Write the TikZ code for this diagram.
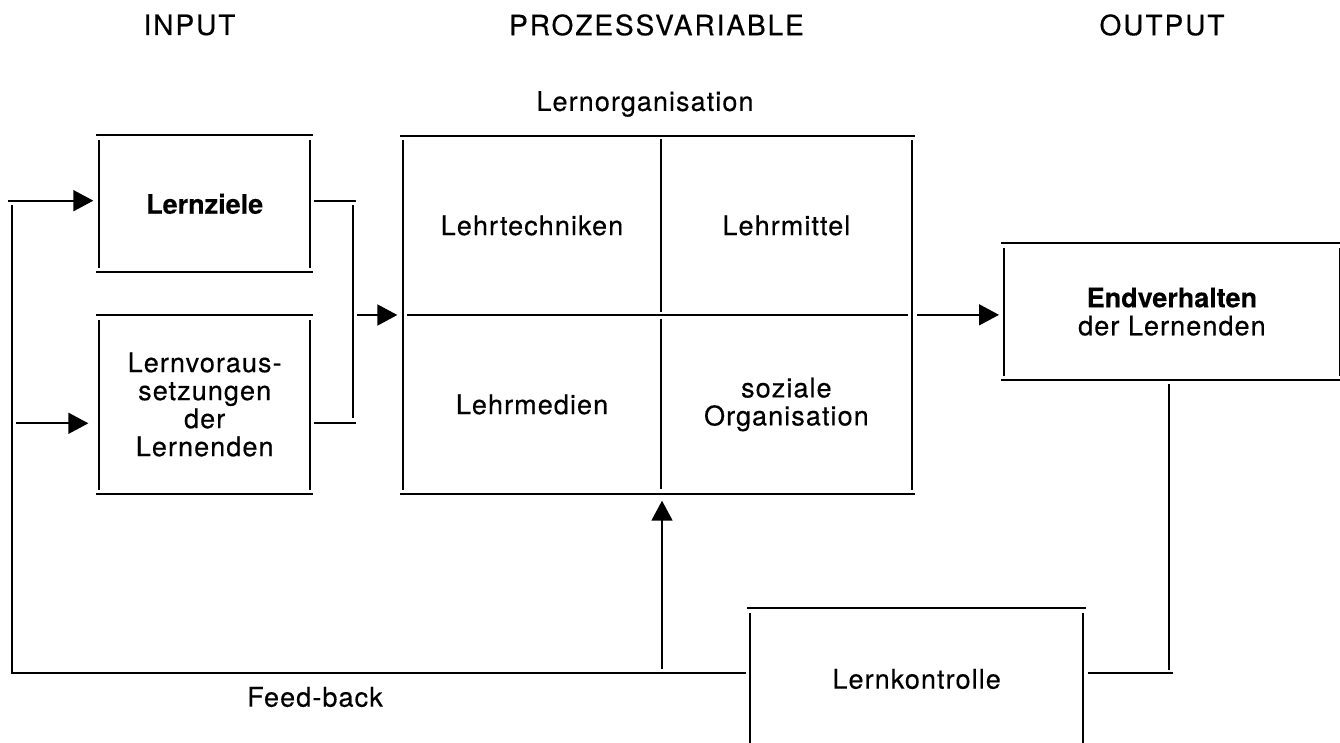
\documentclass[tikz,border=0pt]{standalone}
\usepackage{fontspec}
\setmainfont{TeX Gyre Heros}[LetterSpace=4,FakeBold=0.4,BoldFeatures={LetterSpace=0,FakeBold=0.2}]
\newfontfamily\headfont{TeX Gyre Heros}[LetterSpace=7,FakeBold=0.4]
\usepackage{tikz}
\usetikzlibrary{arrows.meta}

\newcommand{\gapframe}[1]{%
  \draw ([xshift=-3pt]#1.north west) -- ([xshift=3pt]#1.north east);
  \draw ([xshift=-3pt]#1.south west) -- ([xshift=3pt]#1.south east);
  \draw ([yshift=-4.5pt]#1.north west) -- ([yshift=4.5pt]#1.south west);
  \draw ([yshift=-4.5pt]#1.north east) -- ([yshift=4.5pt]#1.south east);
}

\begin{document}
\begin{tikzpicture}[x=1pt,y=-1pt,line width=1.8pt,
    every node/.style={font=\fontsize{27}{28}\selectfont,inner sep=0pt,outer sep=0pt,align=center},
    head/.style={font=\headfont\fontsize{28}{30}\selectfont},
    arr/.style={-{Triangle[length=20pt,width=21pt]}}]
  \useasboundingbox (0,0) rectangle (1340,743);


    \node[head]   (hin)   at (189.5, 25)      {INPUT};
    \node[head]   (hproc) at (656.5, 25)      {PROZESSVARIABLE};
    \node[head]   (hout)  at (1162, 25)       {OUTPUT};

    \node[minimum width=210.7pt,minimum height=137pt]   (lz)  at (204.7, 203.8)   {\textbf{Lernziele}};
    \node[minimum width=210.7pt,minimum height=179pt]   (lv)  at (204.7, 404.5)   {Lernvoraus-\\setzungen\\der\\Lernenden};
    \node[minimum width=508.7pt,minimum height=358.3pt] (lo)  at (657.7, 314.85)  {};
    \node[minimum width=335.2pt,minimum height=136.7pt] (ev)  at (1171.9, 311.65) {\textbf{Endverhalten}\\der Lernenden};
    \node[minimum width=333.3pt,minimum height=141.4pt] (lk)  at (916.65, 679)    {Lernkontrolle};

    \node   (lorg) at (645, 104)      {Lernorganisation};
    \node   (lt)   at (532, 225.5)    {Lehrtechniken};
    \node   (lm)   at (786.4, 225.5)  {Lehrmittel};
    \node   (lmed) at (532, 404.5)    {Lehrmedien};
    \node   (so)   at (786.4, 404.5)  {soziale\\Organisation};
    \node   (fb)   at (315, 697)      {Feed-back};

    \coordinate (in1) at (8.3, 200.7);
    \coordinate (in2) at (16, 423.3);
    \coordinate (jn)  at (353.3, 315);
    \coordinate (cx)  at (660.7, 315);
    \coordinate (fbc) at (11.7, 672.7);
    \coordinate (up)  at (662, 672.7);
    \coordinate (rc)  at (1169.3, 673.3);


    \gapframe{lz}
    \gapframe{lv}
    \gapframe{lo}
    \gapframe{ev}
    \gapframe{lk}

    \draw ([yshift=-3.3pt]cx |- lo.north) -- ([yshift=3.3pt]cx);
    \draw ([yshift=-4pt]cx) -- ([yshift=5pt]cx |- lo.south);
    \draw ([xshift=3.7pt]lo.west |- cx) -- ([xshift=-4pt]lo.east |- cx);

    \draw[arr, shorten >=6pt]  (in1) -- (in1 -| lz.west);
    \draw[arr, shorten >=11pt] (in2) -- (in2 -| lv.west);

    \draw ([xshift=4.3pt]in1 -| lz.east) -- ([xshift=2.7pt]in1 -| jn);
    \draw ([yshift=-4.3pt]in1 -| jn) -- ([yshift=5.3pt]in2 -| jn);
    \draw ([xshift=4.3pt]in2 -| lv.east) -- ([xshift=2.7pt]in2 -| jn);
    \draw[arr, shorten >=6pt] ([xshift=3.4pt]jn) -- (jn -| lo.west);

    \draw[arr, shorten >=5.3pt] ([xshift=4.7pt]lo.east) -- (lo.east -| ev.west);

    \draw ([yshift=-4pt]rc |- ev.south) -- ([yshift=3.3pt]rc);
    \draw ([xshift=4.4pt]rc -| lk.east) -- ([xshift=3.4pt]rc);

    \draw ([xshift=-4.3pt]fbc -| lk.west) -- (fbc) -- ([yshift=-4.3pt]fbc |- in1);
    \draw[arr, shorten >=6.7pt] ([yshift=3.7pt]up) -- (up |- lo.south);
  \end{tikzpicture}
\end{document}
